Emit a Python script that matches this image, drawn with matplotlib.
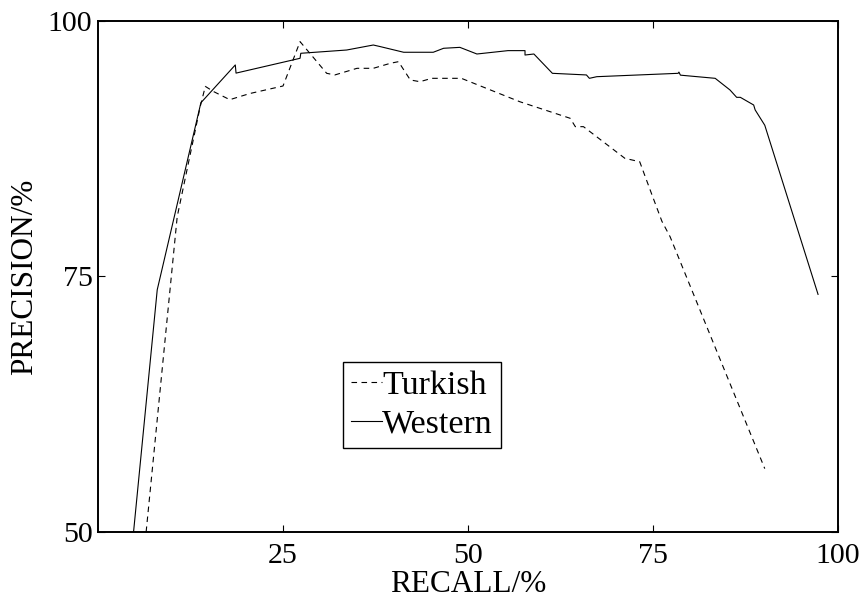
import matplotlib
matplotlib.use("Agg")
import matplotlib.pyplot as plt

# ---- data (recall %, precision %) ----
western_recall = [4.8, 8.0, 13.9, 18.55, 18.65, 27.3, 27.4, 33.6, 37.2, 38.1,
                  41.3, 45.3, 46.7, 48.9, 51.2, 55.4, 57.7, 57.7, 58.9, 61.4,
                  66.0, 66.4, 67.4, 78.4, 78.5, 78.7, 83.4, 85.4, 86.3, 86.8,
                  88.6, 88.8, 90.1, 97.3]
western_precision = [50.0, 73.7, 92.0, 95.7, 94.9, 96.35, 96.84, 97.16, 97.65, 97.5,
                     96.94, 96.94, 97.33, 97.42, 96.77, 97.1, 97.1, 96.67, 96.77, 94.88,
                     94.72, 94.39, 94.55, 94.88, 95.0, 94.7, 94.39, 93.25, 92.53, 92.53,
                     91.78, 91.3, 89.8, 73.25]

turkish_recall = [6.5, 10.7, 13.8, 14.5, 15.6, 17.8, 20.5, 25.0, 27.3, 30.9,
                  32.0, 35.0, 37.2, 39.5, 40.6, 42.2, 43.5, 45.1, 49.1, 57.0,
                  63.8, 64.5, 65.6, 71.2, 73.2, 74.8, 76.2, 77.3, 82.9, 90.1]
turkish_precision = [50.0, 80.85, 91.6, 93.6, 93.1, 92.3, 92.9, 93.64, 97.98, 94.88,
                     94.72, 95.37, 95.37, 95.86, 96.02, 94.23, 94.06, 94.39, 94.39, 92.1,
                     90.48, 89.66, 89.66, 86.56, 86.23, 83.1, 80.4, 78.9, 68.95, 56.2]

x_ticks = [25, 50, 75, 100]
y_ticks = [50, 75, 100]

FONT = ["Liberation Serif", "DejaVu Serif"]
FS_TICK = 21.5
FS_LABEL = 22.5
FS_LEGEND = 24.5

plt.rcParams["font.family"] = FONT

fig = plt.figure(figsize=(8.66, 5.98), dpi=100)
ax = fig.add_axes([0.1132, 0.1104, 0.8545, 0.8545])

ax.plot(turkish_recall, turkish_precision, color="black", lw=0.8,
        linestyle=(0, (5, 4)), label="Turkish")
ax.plot(western_recall, western_precision, color="black", lw=0.8,
        linestyle="-", label="Western")

ax.set_xlim(0, 100)
ax.set_ylim(50, 100)
ax.set_xticks(x_ticks)
ax.set_yticks(y_ticks)
ax.tick_params(direction="in", length=5, width=0.8, top=True, right=True,
               labelsize=FS_TICK)
ax.tick_params(axis="x", pad=8)
ax.tick_params(axis="y", pad=4)
for spine in ax.spines.values():
    spine.set_linewidth(1.4)

ax.set_xlabel("RECALL/%", fontsize=FS_LABEL, labelpad=1)
ax.set_ylabel("PRECISION/%", fontsize=FS_LABEL, labelpad=6)

leg = ax.legend(loc="lower left", bbox_to_anchor=(0.331, 0.164), fontsize=FS_LEGEND,
                handlelength=0.9, handletextpad=0.0, borderpad=0.25,
                labelspacing=0.22, borderaxespad=0, fancybox=False,
                framealpha=1, edgecolor="black")
leg.get_frame().set_linewidth(1.0)

fig.savefig("out.png", dpi=100, facecolor="white")
